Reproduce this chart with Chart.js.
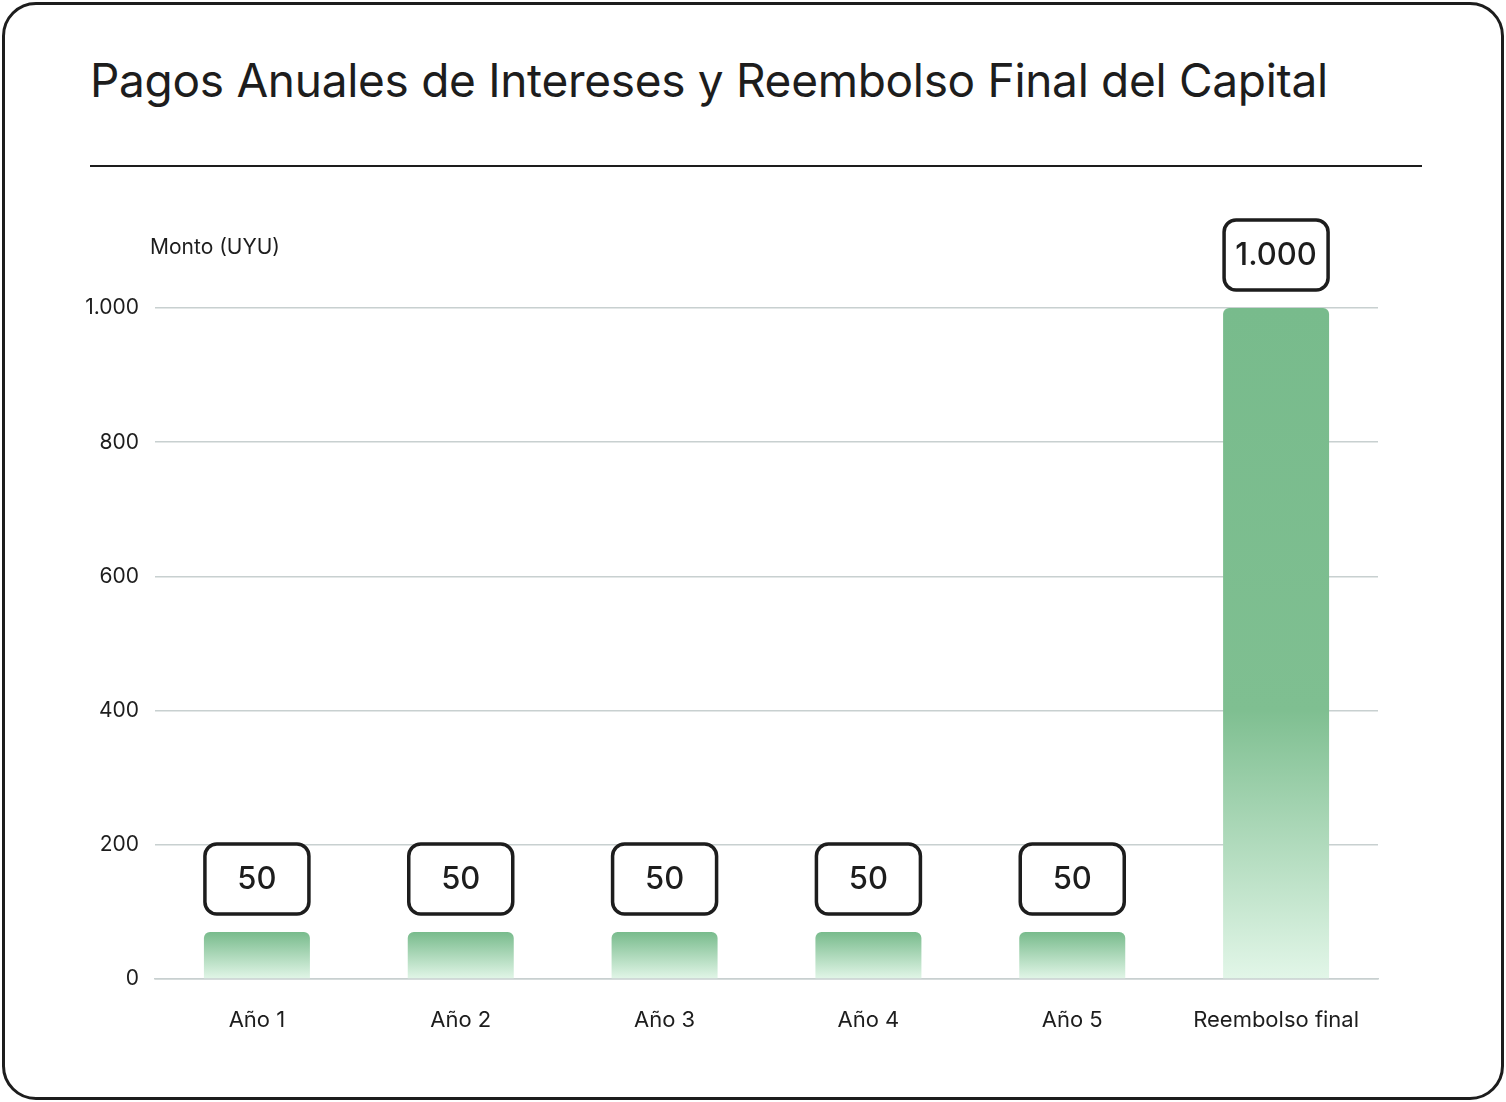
<!DOCTYPE html>
<html><head><meta charset="utf-8">
<script src="https://cdn.jsdelivr.net/npm/chart.js@4/dist/chart.umd.min.js"></script>
<style>
html,body{margin:0;padding:0;background:#fff;font-family:Inter,"Noto Sans",sans-serif;}
#card{position:absolute;left:2px;top:2px;width:1496px;height:1092px;border:3px solid #1d1d1d;border-radius:34px;box-sizing:content-box;}
#title{position:absolute;left:90px;top:52px;font-size:46px;color:#1d1d1d;font-weight:400;letter-spacing:-0.3px;}
#rule{position:absolute;left:90px;top:165px;width:1332px;height:2px;background:#1d1d1d;}
#wrap{position:absolute;left:0;top:190px;width:1506px;height:870px;}
</style></head><body>
<div id="card"></div>
<div id="title">Pagos Anuales de Intereses y Reembolso Final del Capital</div>
<div id="rule"></div>
<div id="wrap"><canvas id="c"></canvas></div>
<script>
const categories=["Año 1","Año 2","Año 3","Año 4","Año 5","Reembolso final"];
const values=[50,50,50,50,50,1000];
const valueLabels=["50","50","50","50","50","1.000"];
const yTicks=[0,200,400,600,800,1000];
const tickLabels={0:"0",200:"200",400:"400",600:"600",800:"800",1000:"1.000"};
const MINLEN=47;

function barFill(ctx){
  const ch=ctx.chart, a=ch.chartArea;
  if(!a) return '#7bbd8e';
  const y=ch.scales.y;
  const v=values[ctx.dataIndex];
  const bottom=y.getPixelForValue(0);
  let top=y.getPixelForValue(v);
  if(bottom-top<MINLEN) top=bottom-MINLEN;
  const g=ch.ctx.createLinearGradient(0,top,0,bottom);
  g.addColorStop(0,'#78bb8c');
  if(v>500){g.addColorStop(0.6,'#7fbf91');}
  g.addColorStop(1,'#e2f6e8');
  return g;
}

const labelPlugin={id:'lbl',afterDatasetsDraw(ch){
  const c=ch.ctx, meta=ch.getDatasetMeta(0);
  c.save();
  meta.data.forEach((b,i)=>{
    const w=104,h=70,x=b.x-w/2,yb=b.y-18,yt=yb-h;
    c.beginPath();c.roundRect(x,yt,w,h,12);
    c.fillStyle='#fff';c.fill();c.lineWidth=3.5;c.strokeStyle='#1d1d1d';c.stroke();
    c.fillStyle='#1d1d1d';c.font='500 31px Inter';c.textAlign='center';c.textBaseline='middle';
    c.fillText(valueLabels[i],b.x,yt+h/2+1);
  });
  c.font='21px Inter';c.textAlign='left';c.textBaseline='middle';c.fillStyle='#1d1d1d';
  c.fillText('Monto (UYU)',150,58);
  c.restore();
}};

new Chart(document.getElementById('c'),{
  type:'bar',
  data:{labels:categories,datasets:[{data:values,backgroundColor:barFill,borderRadius:6,borderSkipped:'bottom',minBarLength:MINLEN,barPercentage:0.52,categoryPercentage:1}]},
  options:{responsive:true,maintainAspectRatio:false,animation:false,
    layout:{padding:{left:0,right:128,top:118,bottom:0}},
    plugins:{legend:{display:false},tooltip:{enabled:false}},
    scales:{
      x:{grid:{display:false},border:{color:'#c8d0d0',width:1.5},
        ticks:{color:'#1d1d1d',font:{family:'Inter',size:22},padding:20},
        afterFit(s){s.height=81;}},
      y:{min:0,max:1000,afterBuildTicks(s){s.ticks=yTicks.map(v=>({value:v}));},
        grid:{color:'#c8d0d0',lineWidth:1.5,drawTicks:false},border:{display:false},
        ticks:{color:'#1d1d1d',font:{family:'Inter',size:21},padding:16,callback:v=>tickLabels[v]},
        afterFit(s){s.width=155;}}
    }},
  plugins:[labelPlugin]
});
</script></body></html>
